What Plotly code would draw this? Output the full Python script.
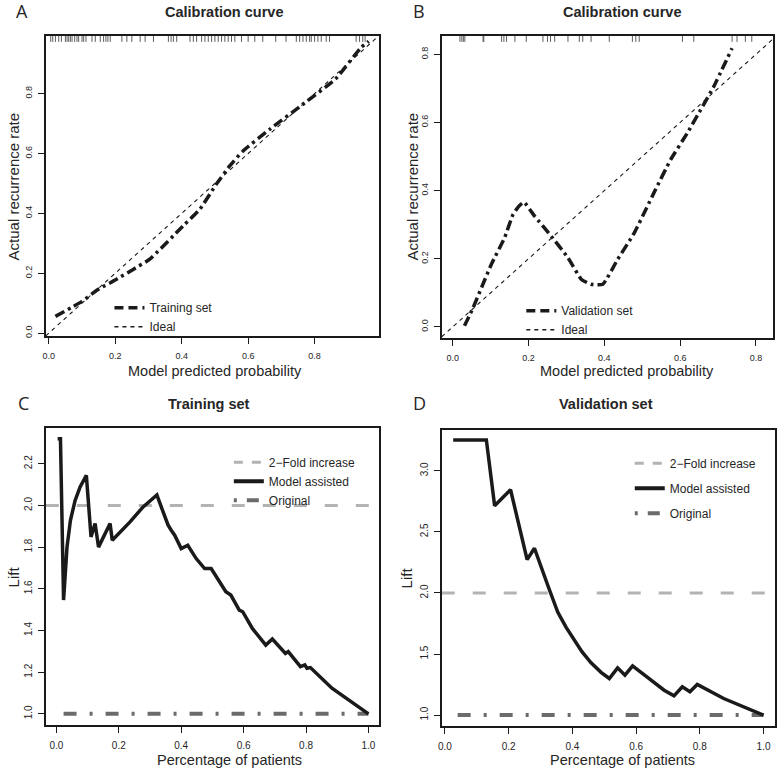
import plotly.graph_objects as go

W, H = 777, 773

# ---------------- data ----------------
# Panel A: calibration, training set
a_pred = [0.02, 0.10, 0.147, 0.204, 0.254, 0.304, 0.404, 0.454, 0.504, 0.544, 0.584,
          0.664, 0.763, 0.863, 0.938, 0.963]
a_obs = [0.056, 0.106, 0.145, 0.18, 0.213, 0.247, 0.358, 0.413, 0.497, 0.558, 0.608,
         0.68, 0.763, 0.849, 0.952, 0.975]
a_rug = [0.006, 0.012, 0.02, 0.03, 0.038, 0.05, 0.055, 0.06, 0.065, 0.07, 0.078, 0.085,
         0.09, 0.1, 0.105, 0.112, 0.13, 0.14, 0.155, 0.165, 0.172, 0.178, 0.185, 0.22,
         0.235, 0.25, 0.275, 0.29, 0.315, 0.36, 0.368, 0.375, 0.385, 0.425, 0.435, 0.445,
         0.46, 0.47, 0.48, 0.49, 0.5, 0.51, 0.52, 0.53, 0.54, 0.55, 0.56, 0.58, 0.6, 0.62,
         0.644, 0.683, 0.714, 0.745, 0.755, 0.765, 0.775, 0.785, 0.79, 0.8, 0.81, 0.82,
         0.835, 0.845, 0.925, 0.935, 0.945, 0.952]

# Panel B: calibration, validation set
b_pred = [0.031, 0.054, 0.102, 0.137, 0.159, 0.175, 0.188, 0.216, 0.26, 0.304, 0.339,
          0.365, 0.396, 0.435, 0.479, 0.531, 0.575, 0.619, 0.654, 0.689, 0.737]
b_obs = [0.003, 0.057, 0.184, 0.262, 0.33, 0.355, 0.366, 0.325, 0.266, 0.203, 0.14,
         0.125, 0.125, 0.198, 0.276, 0.394, 0.491, 0.569, 0.637, 0.706, 0.818]
b_rug = [0.019, 0.024, 0.028, 0.032, 0.08, 0.082, 0.129, 0.135, 0.142, 0.164, 0.194,
         0.238, 0.25, 0.258, 0.269, 0.304, 0.334, 0.343, 0.365, 0.413, 0.474, 0.483,
         0.492, 0.606, 0.636, 0.737, 0.75, 0.772, 0.789]

# Panel C: lift, training set
c_pct = [0.004, 0.013, 0.023, 0.034, 0.045, 0.06, 0.076, 0.096, 0.111, 0.124, 0.135,
         0.172, 0.179, 0.236, 0.278, 0.322, 0.342, 0.358, 0.368, 0.379, 0.40, 0.421,
         0.448, 0.475, 0.496, 0.506, 0.543, 0.559, 0.586, 0.597, 0.628, 0.671, 0.692,
         0.734, 0.743, 0.782, 0.796, 0.803, 0.814, 0.883, 0.95, 1.0]
c_lift = [2.32, 2.32, 1.546, 1.80, 1.929, 2.024, 2.089, 2.144, 1.849, 1.913, 1.80,
          1.913, 1.833, 1.921, 1.993, 2.05, 1.969, 1.905, 1.881, 1.857, 1.793, 1.809,
          1.745, 1.697, 1.697, 1.674, 1.586, 1.57, 1.498, 1.49, 1.41, 1.33, 1.359,
          1.29, 1.299, 1.227, 1.235, 1.219, 1.222, 1.123, 1.055, 1.0]
c_orig_x = [0.023, 1.0]
c_orig_y = [1.0, 1.0]

# Panel D: lift, validation set
d_pct = [0.026, 0.13, 0.156, 0.206, 0.258, 0.281, 0.323, 0.354, 0.38, 0.406, 0.43,
         0.458, 0.49, 0.516, 0.542, 0.565, 0.589, 0.64, 0.688, 0.719, 0.745, 0.769,
         0.792, 0.875, 0.94, 1.0]
d_lift = [3.253, 3.253, 2.714, 2.845, 2.273, 2.366, 2.061, 1.844, 1.72, 1.61, 1.52,
          1.43, 1.35, 1.3, 1.387, 1.327, 1.403, 1.30, 1.204, 1.158, 1.232, 1.191,
          1.251, 1.136, 1.065, 1.0]
d_orig_x = [0.04, 1.0]
d_orig_y = [1.0, 1.0]

fold_level = 2.0

# ---------------- layout geometry ----------------
def dom_x(l, r):
    return [l / W, r / W]

def dom_y(t, b):
    return [1 - b / H, 1 - t / H]

A_dx, A_dy = dom_x(42, 377), dom_y(36, 337)
B_dx, B_dy = dom_x(440, 773), dom_y(36, 339)
C_dx, C_dy = dom_x(42, 377), dom_y(429, 727)
D_dx, D_dy = dom_x(440, 775), dom_y(431, 728)

A_xr, A_yr = [-0.009, 0.994], [-0.01, 0.993]
B_xr, B_yr = [-0.029, 0.845], [-0.033, 0.854]
C_xr, C_yr = [-0.034, 1.034], [0.946, 2.372]
D_xr, D_yr = [-0.01, 1.036], [0.91, 3.335]

BLACK = "#1a1a1a"
TXT = "#262626"
GRAY_LIGHT = "#b3b3b3"
GRAY_DARK = "#6b6b6b"
FONT = "Liberation Sans, Arial, sans-serif"

fig = go.Figure()

def rug_segments(vals, yr, dy):
    span = yr[1] - yr[0]
    ph = (dy[1] - dy[0]) * H
    ln = 6 * span / ph
    xs, ys = [], []
    for v in vals:
        xs += [v, v, None]
        ys += [yr[1], yr[1] - ln, None]
    return xs, ys

# ---- Panel A ----
fig.add_trace(go.Scatter(x=A_xr, y=A_xr, mode="lines", xaxis="x", yaxis="y",
                         line=dict(color=BLACK, width=1.1, dash="4px,4px"),
                         showlegend=False, hoverinfo="skip"))
fig.add_trace(go.Scatter(x=a_pred, y=a_obs, mode="lines", xaxis="x", yaxis="y",
                         line=dict(color=BLACK, width=3.5, dash="10px,4px,3px,4px", shape="spline", smoothing=0.4),
                         showlegend=False))
rx, ry = rug_segments(a_rug, A_yr, A_dy)
fig.add_trace(go.Scatter(x=rx, y=ry, mode="lines", xaxis="x", yaxis="y",
                         line=dict(color="#333333", width=0.8), showlegend=False, hoverinfo="skip"))
fig.add_trace(go.Scatter(x=[None], y=[None], mode="lines", xaxis="x", yaxis="y", name="Training set",
                         line=dict(color=BLACK, width=3.5, dash="9px,5px"), legend="legend"))
fig.add_trace(go.Scatter(x=[None], y=[None], mode="lines", xaxis="x", yaxis="y", name="Ideal",
                         line=dict(color=BLACK, width=1.3, dash="4px,4px"), legend="legend"))

# ---- Panel B ----
fig.add_trace(go.Scatter(x=B_xr, y=B_xr, mode="lines", xaxis="x2", yaxis="y2",
                         line=dict(color=BLACK, width=1.1, dash="4px,4px"),
                         showlegend=False, hoverinfo="skip"))
fig.add_trace(go.Scatter(x=b_pred, y=b_obs, mode="lines", xaxis="x2", yaxis="y2",
                         line=dict(color=BLACK, width=3.5, dash="10px,4px,3px,4px", shape="spline", smoothing=0.4),
                         showlegend=False))
rx, ry = rug_segments(b_rug, B_yr, B_dy)
fig.add_trace(go.Scatter(x=rx, y=ry, mode="lines", xaxis="x2", yaxis="y2",
                         line=dict(color="#333333", width=0.8), showlegend=False, hoverinfo="skip"))
fig.add_trace(go.Scatter(x=[None], y=[None], mode="lines", xaxis="x2", yaxis="y2", name="Validation set",
                         line=dict(color=BLACK, width=3.5, dash="9px,5px"), legend="legend2"))
fig.add_trace(go.Scatter(x=[None], y=[None], mode="lines", xaxis="x2", yaxis="y2", name="Ideal",
                         line=dict(color=BLACK, width=1.3, dash="4px,4px"), legend="legend2"))

# ---- Panel C ----
fig.add_trace(go.Scatter(x=C_xr, y=[fold_level, fold_level], mode="lines", xaxis="x3", yaxis="y3",
                         line=dict(color=GRAY_LIGHT, width=3, dash="13px,18px"),
                         showlegend=False, hoverinfo="skip"))
fig.add_trace(go.Scatter(x=c_orig_x, y=c_orig_y, mode="lines", xaxis="x3", yaxis="y3",
                         line=dict(color=GRAY_DARK, width=4, dash="13px,13px,3px,13px"),
                         showlegend=False))
fig.add_trace(go.Scatter(x=c_pct, y=c_lift, mode="lines", xaxis="x3", yaxis="y3",
                         line=dict(color=BLACK, width=3.5), showlegend=False))
fig.add_trace(go.Scatter(x=[None], y=[None], mode="lines", xaxis="x3", yaxis="y3", name="2\u2212Fold increase",
                         line=dict(color=GRAY_LIGHT, width=3, dash="9px,9px"), legend="legend3"))
fig.add_trace(go.Scatter(x=[None], y=[None], mode="lines", xaxis="x3", yaxis="y3", name="Model assisted",
                         line=dict(color=BLACK, width=4), legend="legend3"))
fig.add_trace(go.Scatter(x=[None], y=[None], mode="lines", xaxis="x3", yaxis="y3", name="Original",
                         line=dict(color=GRAY_DARK, width=4, dash="3px,10px,12px,10px"), legend="legend3"))

# ---- Panel D ----
fig.add_trace(go.Scatter(x=D_xr, y=[fold_level, fold_level], mode="lines", xaxis="x4", yaxis="y4",
                         line=dict(color=GRAY_LIGHT, width=3, dash="13px,18px"),
                         showlegend=False, hoverinfo="skip"))
fig.add_trace(go.Scatter(x=d_orig_x, y=d_orig_y, mode="lines", xaxis="x4", yaxis="y4",
                         line=dict(color=GRAY_DARK, width=4, dash="13px,13px,3px,13px"),
                         showlegend=False))
fig.add_trace(go.Scatter(x=d_pct, y=d_lift, mode="lines", xaxis="x4", yaxis="y4",
                         line=dict(color=BLACK, width=3.5), showlegend=False))
fig.add_trace(go.Scatter(x=[None], y=[None], mode="lines", xaxis="x4", yaxis="y4", name="2\u2212Fold increase",
                         line=dict(color=GRAY_LIGHT, width=3, dash="9px,9px"), legend="legend4", legendgroup="g1"))
fig.add_trace(go.Scatter(x=[None], y=[None], mode="lines", xaxis="x4", yaxis="y4", name="Model assisted",
                         line=dict(color=BLACK, width=4), legend="legend4", legendgroup="g2"))
fig.add_trace(go.Scatter(x=[None], y=[None], mode="lines", xaxis="x4", yaxis="y4", name="Original",
                         line=dict(color=GRAY_DARK, width=4, dash="3px,10px,12px,10px"), legend="legend4", legendgroup="g3"))


def xax(dom, rng, anchor, vals, fs):
    return dict(domain=dom, range=rng, anchor=anchor, tickvals=vals, tickformat=".1f",
                showgrid=False, zeroline=False, showline=True, linecolor=BLACK, linewidth=1.5,
                mirror=True, ticks="outside", ticklen=6, tickwidth=1, tickcolor=BLACK,
                tickfont=dict(family=FONT, size=fs, color=TXT), ticklabelstandoff=4)


def yax(dom, rng, anchor, vals, fs):
    return dict(domain=dom, range=rng, anchor=anchor, tickvals=vals, tickformat=".1f",
                showgrid=False, zeroline=False, showline=True, linecolor=BLACK, linewidth=1.5,
                mirror=True, ticks="outside", ticklen=6, tickwidth=1, tickcolor=BLACK,
                tickangle=-90, tickfont=dict(family=FONT, size=fs, color=TXT), ticklabelstandoff=2)

cal_ticks = [0.0, 0.2, 0.4, 0.6, 0.8]
pct_ticks = [0.0, 0.2, 0.4, 0.6, 0.8, 1.0]
c_yticks = [1.0, 1.2, 1.4, 1.6, 1.8, 2.0, 2.2]
d_yticks = [1.0, 1.5, 2.0, 2.5, 3.0]

def leg(xpx, ypx, gap=0):
    return dict(x=xpx / W, y=1 - ypx / H, xanchor="left", yanchor="top",
                bgcolor="rgba(0,0,0,0)", borderwidth=0, tracegroupgap=gap,
                font=dict(family=FONT, size=12, color=TXT), itemwidth=30)

annotations = []
def text(s, xpx, ypx, size, bold=False, angle=0, family=FONT):
    annotations.append(dict(text=("<b>%s</b>" % s) if bold else s, x=xpx / W, y=1 - ypx / H,
                            xref="paper", yref="paper", showarrow=False, textangle=angle,
                            xanchor="center", yanchor="middle",
                            font=dict(family=family, size=size, color=TXT)))

text("Calibration curve", 221, 12, 14.5, bold=True)
text("Calibration curve", 621, 12, 14.5, bold=True)
text("Training set", 206, 405, 14.5, bold=True)
text("Validation set", 605, 405, 14.5, bold=True)
for lab, xx, yy in [("A", 18, 11), ("B", 417, 11), ("C", 20, 404), ("D", 418, 404)]:
    text(lab, xx, yy, 18, family="Open Sans, sans-serif")
text("Actual recurrence rate", 10, 187, 15, angle=-90)
text("Actual recurrence rate", 411, 187, 15, angle=-90)
text("Model predicted probability", 212, 372, 14.5)
text("Model predicted probability", 626, 372, 14.5)
text("Lift", 10, 578, 15, angle=-90)
text("Lift", 405, 579, 15, angle=-90)
text("Percentage of patients", 227, 762, 14.5)
text("Percentage of patients", 622, 762, 14.5)

fig.update_layout(
    width=W, height=H, margin=dict(l=0, r=0, t=0, b=0),
    paper_bgcolor="white", plot_bgcolor="white",
    xaxis=xax(A_dx, A_xr, "y", cal_ticks, 9), yaxis=yax(A_dy, A_yr, "x", cal_ticks, 9),
    xaxis2=xax(B_dx, B_xr, "y2", cal_ticks, 9), yaxis2=yax(B_dy, B_yr, "x2", cal_ticks, 9),
    xaxis3=xax(C_dx, C_xr, "y3", pct_ticks, 10), yaxis3=yax(C_dy, C_yr, "x3", c_yticks, 10),
    xaxis4=xax(D_dx, D_xr, "y4", pct_ticks, 10), yaxis4=yax(D_dy, D_yr, "x4", d_yticks, 10),
    legend=leg(106, 294),
    legend2=leg(520, 297),
    legend3=leg(226, 449),
    legend4=leg(629, 450, gap=6),
    annotations=annotations,
    showlegend=True,
)

fig.write_html("out.html", config={"displayModeBar": False},
               post_script="document.body.style.margin='0';document.body.style.padding='0';document.body.style.overflow='hidden';")
